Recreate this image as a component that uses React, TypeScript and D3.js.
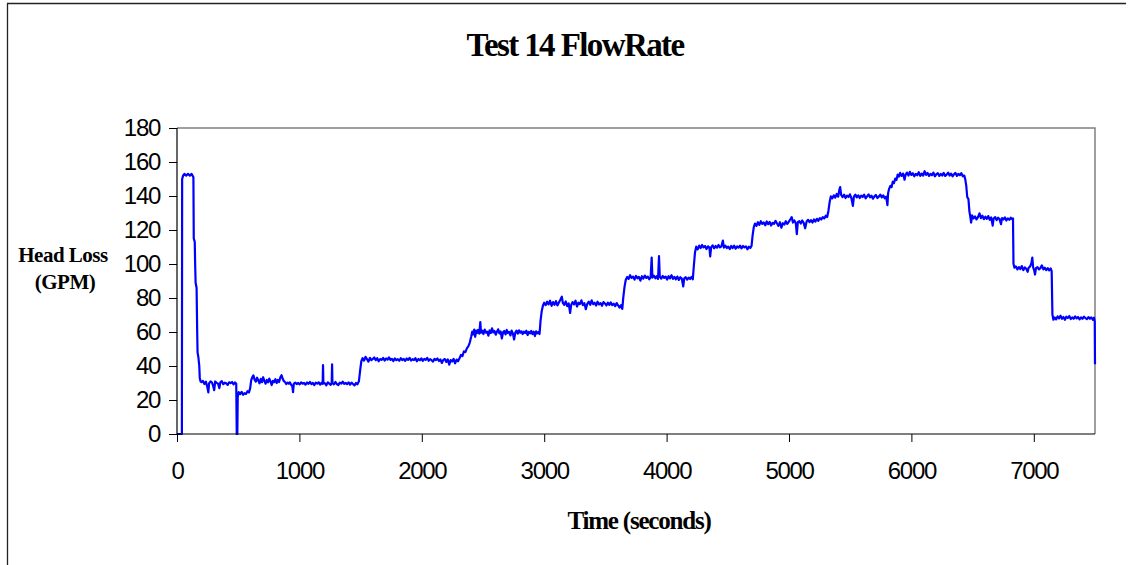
import { useEffect, useRef } from 'react';
import * as d3 from 'd3';

type Sample = [number, number];

// Readings taken off the flow-rate trace, grouped by plateau: [time (s), value]
const startupFlow: Sample[] = [
  [0, 0], [20, 0], [40, 0], [42, 150], [50, 152], [60, 153], [75, 152], [90, 153], [105, 152],
  [120, 153], [134, 151], [137, 115], [145, 113], [148, 101], [152, 89], [160, 86], [165, 60],
  [168, 48], [175, 45], [182, 40], [186, 33], [192, 31],
];

const stage30: Sample[] = [
  [200, 30.5], [212, 31.2], [224, 29.4], [236, 30.8], [248, 27.5], [256, 24.5], [262, 29.8], [274, 31.0],
  [286, 30.2], [296, 28.1], [304, 25.8], [312, 30.9], [324, 30.1], [336, 29.6], [346, 27.0], [354, 30.4],
  [366, 31.1], [378, 29.3], [390, 30.2], [402, 29.8], [414, 28.9], [426, 30.4], [438, 29.9], [450, 30.6],
  [462, 29.2], [474, 30.3], [484, 29.6], [488, 0], [493, 0], [496, 21.8], [504, 24.6], [516, 23.5],
  [528, 24.8], [540, 23.1], [552, 24.0], [564, 23.6], [576, 25.2], [588, 24.4], [598, 27.0], [606, 31.5],
  [614, 33.2], [624, 34.5], [634, 32.0], [644, 30.8], [654, 33.1], [664, 31.6], [674, 29.8], [684, 32.4],
  [694, 30.5], [704, 33.4], [714, 31.2], [724, 29.6], [734, 31.8], [744, 30.4], [754, 32.6], [764, 30.9],
  [774, 28.8], [784, 31.3], [794, 30.5], [804, 32.2], [814, 30.0], [824, 31.8], [834, 30.6], [844, 33.2],
  [854, 34.6], [862, 32.8], [872, 31.2], [882, 30.6], [892, 29.4], [902, 30.2], [912, 29.6], [922, 30.4],
  [932, 29.0], [942, 28.2], [948, 24.6], [954, 29.5], [966, 30.2], [978, 29.4], [990, 30.0], [1002, 29.2],
  [1014, 30.4], [1026, 29.6], [1038, 30.1], [1050, 29.0], [1062, 30.3], [1074, 29.5], [1086, 30.6],
  [1098, 29.4], [1110, 30.0], [1122, 28.8], [1134, 30.2], [1146, 29.6], [1158, 30.4], [1170, 29.1],
  [1180, 30.0], [1190, 29.5], [1193, 40.5], [1196, 30.2], [1208, 29.8], [1220, 28.6], [1232, 30.4],
  [1244, 29.6], [1256, 28.9], [1264, 30.2], [1267, 41.0], [1270, 30.0], [1282, 29.2], [1294, 30.6],
  [1306, 29.4], [1318, 28.8], [1330, 30.2], [1342, 29.6], [1354, 30.8], [1366, 29.5], [1378, 30.1],
  [1390, 29.3], [1402, 30.4], [1414, 29.0], [1426, 30.2], [1438, 29.4], [1450, 28.6], [1462, 30.0],
  [1474, 29.2], [1486, 31.0],
];

const stage44: Sample[] = [
  [1498, 38.5], [1506, 42.8], [1516, 44.6], [1528, 43.2], [1540, 45.4], [1552, 44.0], [1564, 42.6],
  [1576, 44.8], [1588, 43.5], [1600, 44.2], [1612, 45.0], [1624, 43.4], [1636, 44.6], [1648, 42.8],
  [1660, 44.1], [1672, 43.6], [1684, 44.8], [1696, 43.2], [1708, 44.4], [1720, 43.8], [1732, 45.1],
  [1744, 43.6], [1756, 44.2], [1768, 42.9], [1780, 44.5], [1792, 43.4], [1804, 44.0], [1816, 43.1],
  [1828, 44.6], [1840, 43.5], [1852, 44.2], [1864, 43.0], [1876, 44.4], [1888, 43.6], [1900, 44.8],
  [1912, 43.2], [1924, 44.0], [1936, 43.5], [1948, 44.6], [1960, 42.8], [1972, 44.1], [1984, 43.4],
  [1996, 44.5], [2008, 43.0], [2020, 44.2], [2032, 43.6], [2044, 44.8], [2056, 43.1], [2068, 44.0],
  [2080, 43.4], [2092, 42.6], [2104, 44.2], [2116, 43.5], [2128, 44.4], [2140, 42.9], [2152, 43.8],
  [2164, 41.8], [2176, 43.6], [2188, 44.1], [2200, 42.4], [2212, 43.9], [2224, 40.8], [2236, 43.5],
  [2248, 42.6], [2260, 44.2], [2272, 41.6], [2284, 43.8], [2296, 42.8], [2308, 44.6], [2320, 46.5],
  [2332, 45.8], [2344, 48.6],
];

const stage60: Sample[] = [
  [2356, 48.2], [2368, 50.4], [2380, 51.6], [2392, 53.8], [2404, 57.4], [2412, 60.2], [2420, 58.6],
  [2428, 61.4], [2436, 57.2], [2444, 60.8], [2452, 59.4], [2460, 61.2], [2470, 59.0], [2478, 65.8],
  [2484, 59.6], [2494, 60.8], [2504, 58.8], [2514, 61.4], [2524, 59.6], [2534, 60.2], [2544, 57.8],
  [2554, 61.0], [2564, 59.4], [2574, 62.2], [2584, 59.8], [2594, 60.6], [2604, 58.4], [2614, 60.2],
  [2624, 61.6], [2634, 59.2], [2644, 60.4], [2654, 56.2], [2664, 59.8], [2674, 60.6], [2684, 58.6],
  [2694, 61.2], [2704, 59.4], [2714, 60.0], [2724, 58.0], [2734, 60.8], [2744, 59.2], [2754, 55.6],
  [2764, 59.6], [2774, 60.8], [2784, 59.0], [2794, 61.0], [2804, 59.6], [2814, 60.4], [2824, 58.8],
  [2834, 60.2], [2844, 59.4], [2854, 60.8], [2864, 58.2], [2874, 60.0], [2884, 59.2], [2894, 60.6],
  [2904, 58.8], [2914, 60.2], [2924, 57.6], [2934, 60.4], [2944, 59.2], [2954, 60.0], [2962, 58.8],
];

const stage77: Sample[] = [
  [2970, 66.5], [2980, 72.4], [2990, 75.6], [3000, 77.2], [3012, 75.8], [3024, 77.8], [3036, 76.2],
  [3048, 78.4], [3060, 75.4], [3072, 77.6], [3084, 76.0], [3096, 78.2], [3108, 75.6], [3120, 77.4],
  [3132, 79.0], [3144, 80.8], [3152, 77.2], [3164, 76.0], [3176, 78.0], [3188, 75.2], [3200, 76.8],
  [3212, 71.2], [3220, 75.8], [3232, 77.6], [3244, 76.2], [3256, 78.4], [3268, 75.0], [3280, 77.2],
  [3292, 76.4], [3304, 78.6], [3316, 75.8], [3328, 77.0], [3340, 73.4], [3352, 76.6], [3364, 77.8],
  [3376, 76.0], [3388, 78.6], [3400, 76.4], [3412, 77.2], [3424, 75.6], [3436, 77.8], [3448, 76.2],
  [3460, 77.0], [3472, 75.4], [3484, 77.6], [3496, 76.8], [3508, 75.6], [3520, 77.2], [3532, 76.0],
  [3544, 77.4], [3556, 75.8], [3568, 76.6], [3580, 75.2], [3592, 77.0], [3604, 75.6], [3616, 74.4],
  [3628, 75.8], [3638, 73.6],
];

const stage92: Sample[] = [
  [3646, 80.2], [3656, 86.4], [3666, 90.6], [3678, 92.4], [3690, 91.2], [3702, 93.4], [3714, 91.8],
  [3726, 92.6], [3738, 90.8], [3750, 93.0], [3762, 91.6], [3774, 92.4], [3786, 90.2], [3798, 92.8],
  [3810, 91.4], [3822, 93.2], [3834, 91.8], [3846, 92.6], [3858, 91.0], [3870, 92.4], [3878, 103.8],
  [3884, 92.0], [3896, 93.2], [3908, 91.6], [3920, 92.8], [3930, 91.2], [3938, 104.6], [3944, 92.6],
  [3956, 91.4], [3968, 93.0], [3980, 91.8], [3992, 92.6], [4004, 90.8], [4016, 92.8], [4028, 91.6],
  [4040, 93.4], [4052, 91.2], [4064, 92.4], [4076, 91.0], [4088, 92.6], [4100, 90.6], [4112, 92.2],
  [4124, 91.4], [4136, 86.8], [4144, 91.6], [4156, 92.2], [4168, 90.8], [4180, 92.0], [4192, 91.2],
  [4204, 92.4], [4214, 91.0],
];

const stage110: Sample[] = [
  [4222, 98.4], [4232, 106.8], [4242, 110.2], [4254, 108.6], [4266, 110.8], [4278, 109.4], [4290, 111.2],
  [4302, 109.8], [4314, 110.6], [4326, 108.8], [4338, 110.4], [4350, 109.6], [4356, 104.4], [4364, 109.8],
  [4376, 111.0], [4388, 109.2], [4400, 110.6], [4412, 109.6], [4424, 111.2], [4436, 109.8], [4448, 110.4],
  [4460, 113.8], [4468, 109.6], [4480, 110.8], [4492, 109.4], [4504, 110.2], [4516, 108.8], [4528, 110.6],
  [4540, 109.4], [4552, 110.8], [4564, 109.0], [4576, 110.4], [4588, 109.6], [4600, 110.8], [4612, 109.2],
  [4624, 110.6], [4636, 109.8], [4648, 110.4], [4660, 108.6], [4672, 110.2], [4684, 109.4], [4694, 110.6],
];

const stage125: Sample[] = [
  [4702, 116.4], [4712, 121.6], [4722, 123.8], [4734, 122.4], [4746, 124.6], [4758, 123.0], [4770, 125.2],
  [4782, 123.6], [4794, 124.4], [4806, 122.8], [4818, 125.0], [4830, 123.4], [4842, 124.8], [4854, 122.6],
  [4866, 124.2], [4878, 123.6], [4890, 125.4], [4902, 123.8], [4914, 122.4], [4926, 124.6], [4938, 121.4],
  [4950, 124.0], [4962, 123.2], [4974, 125.2], [4986, 123.6], [4998, 124.8], [5010, 126.2], [5022, 127.6],
  [5032, 124.4], [5044, 125.6], [5056, 123.8], [5064, 117.6], [5072, 124.6], [5084, 125.2], [5096, 123.8],
  [5108, 125.6], [5120, 124.2], [5132, 121.0], [5144, 125.0], [5156, 126.0], [5168, 124.6], [5180, 125.8],
  [5192, 124.4], [5204, 126.2], [5216, 125.0], [5228, 126.6], [5240, 125.4], [5252, 127.0], [5264, 126.2],
  [5276, 127.6], [5288, 126.8], [5300, 128.4], [5312, 127.6],
];

const stage140: Sample[] = [
  [5322, 131.2], [5332, 136.4], [5342, 139.8], [5354, 138.6], [5366, 140.4], [5378, 139.0], [5390, 141.2],
  [5402, 139.6], [5412, 143.8], [5418, 145.2], [5426, 140.6], [5438, 139.4], [5450, 140.8], [5462, 138.8],
  [5474, 140.2], [5486, 139.4], [5498, 141.0], [5510, 138.6], [5522, 134.2], [5530, 139.6], [5542, 140.8],
  [5554, 139.2], [5566, 140.4], [5578, 138.8], [5590, 140.2], [5602, 139.4], [5614, 140.8], [5626, 138.6],
  [5638, 139.8], [5650, 141.0], [5662, 139.2], [5674, 140.2], [5686, 138.4], [5698, 139.8], [5710, 140.6],
  [5722, 138.8], [5734, 139.6], [5746, 140.8], [5758, 139.2], [5770, 140.4], [5782, 138.6], [5794, 139.6],
  [5804, 134.6], [5810, 141.8],
];

const stage152: Sample[] = [
  [5818, 144.2], [5828, 146.0], [5838, 145.2], [5848, 148.4], [5858, 147.6], [5868, 150.2], [5878, 149.4],
  [5888, 152.6], [5898, 151.4], [5908, 153.6], [5920, 151.8], [5932, 153.2], [5944, 149.6], [5952, 152.4],
  [5964, 153.8], [5976, 152.0], [5988, 154.2], [6000, 152.4], [6012, 153.4], [6024, 151.6], [6036, 153.0],
  [6048, 152.2], [6060, 154.0], [6072, 151.8], [6084, 153.2], [6096, 152.0], [6108, 154.6], [6120, 152.4],
  [6132, 153.6], [6144, 151.8], [6156, 153.0], [6168, 152.2], [6180, 153.8], [6192, 151.6], [6204, 152.8],
  [6216, 153.4], [6228, 151.8], [6240, 153.0], [6252, 152.0], [6264, 153.6], [6276, 151.8], [6288, 152.6],
  [6300, 153.8], [6312, 152.0], [6324, 153.2], [6336, 151.6], [6348, 152.8], [6360, 153.6], [6372, 151.8],
  [6384, 153.0], [6396, 152.2], [6408, 153.4], [6420, 151.6], [6432, 152.0], [6440, 149.8],
];

const stage127: Sample[] = [
  [6448, 146.2], [6456, 139.4], [6466, 138.2], [6474, 131.0], [6482, 127.4], [6488, 124.4], [6496, 128.6],
  [6508, 126.8], [6520, 128.0], [6532, 126.2], [6544, 127.6], [6556, 129.8], [6568, 127.0], [6580, 128.4],
  [6592, 126.4], [6604, 127.8], [6616, 126.6], [6628, 128.2], [6640, 126.0], [6652, 127.4], [6664, 122.6],
  [6672, 126.8], [6684, 127.6], [6696, 125.8], [6708, 127.2], [6720, 126.4], [6732, 123.4], [6740, 127.0],
  [6752, 126.2], [6764, 127.4], [6776, 125.6], [6788, 126.8], [6800, 126.0], [6812, 127.2], [6822, 126.4],
  [6830, 126.8],
];

const stage98: Sample[] = [
  [6834, 100.2], [6842, 97.8], [6854, 98.6], [6866, 96.8], [6878, 98.2], [6890, 97.0], [6902, 98.8],
  [6914, 96.4], [6926, 98.0], [6938, 97.2], [6950, 95.4], [6958, 97.8], [6970, 98.6], [6980, 100.4],
  [6988, 103.8], [6994, 98.2], [7002, 96.6], [7010, 93.8], [7018, 97.6], [7030, 98.2], [7042, 96.8],
  [7054, 97.6], [7066, 99.2], [7078, 96.8], [7090, 97.8], [7102, 96.4], [7114, 97.6], [7126, 96.2],
  [7138, 97.4], [7146, 95.8],
];

const stage68: Sample[] = [
  [7152, 70.4], [7160, 67.2], [7170, 68.6], [7182, 67.4], [7194, 69.2], [7206, 68.0], [7218, 69.6],
  [7230, 67.8], [7242, 68.8], [7254, 67.2], [7266, 69.0], [7278, 68.2], [7290, 69.4], [7302, 67.6],
  [7314, 68.6], [7326, 67.8], [7338, 69.2], [7350, 68.0], [7362, 68.8], [7374, 67.4], [7386, 68.6],
  [7398, 67.8], [7410, 69.0], [7422, 68.2], [7434, 67.6], [7446, 68.8], [7458, 67.8], [7470, 68.6],
  [7482, 67.2], [7492, 68.4], [7498, 66.0], [7500, 41.0],
];

const xTicks = [0, 1000, 2000, 3000, 4000, 5000, 6000, 7000];
const yTicks = [0, 20, 40, 60, 80, 100, 120, 140, 160, 180];

export default function App() {
  const svgRef = useRef<SVGSVGElement | null>(null);

  useEffect(() => {
    if (!svgRef.current) return;
    const svg = d3.select(svgRef.current);
    svg.selectAll("*").remove();

    const width = 1135;
    const height = 565;
    const plot = { left: 177, right: 1095, top: 128, bottom: 434 };
    const sansFont = "'Liberation Sans', Arial, sans-serif";
    const serifFont = "'Liberation Serif', 'Times New Roman', serif";

    svg.attr("width", width).attr("height", height);

    // outer chart border (only top and left edges are in frame)
    svg.append("path")
      .attr("d", `M7.5,${height} V3.5 H1126`)
      .style("fill", "none")
      .style("stroke", "#222")
      .style("stroke-width", 1.3);

    const series = [
      ...startupFlow, ...stage30, ...stage44, ...stage60, ...stage77, ...stage92,
      ...stage110, ...stage125, ...stage140, ...stage152, ...stage127, ...stage98, ...stage68,
    ];

    const x = d3.scaleLinear().domain([0, 7500]).range([plot.left, plot.right]);
    const y = d3.scaleLinear().domain([0, 180]).range([plot.bottom, plot.top]);

    // plot frame: gray top and right edges
    svg.append("path")
      .attr("d", `M${plot.left},${plot.top} H${plot.right} V${plot.bottom}`)
      .style("fill", "none")
      .style("stroke", "#808080")
      .style("stroke-width", 1.5);

    // the trace
    const line = d3.line<Sample>()
      .x(d => x(d[0]))
      .y(d => y(d[1]));

    svg.append("path")
      .attr("d", line(series))
      .style("fill", "none")
      .style("stroke", "#0000ff")
      .style("stroke-width", 2.2)
      .style("stroke-linejoin", "round");

    // y axis
    const yAxis = d3.axisLeft(y).tickValues(yTicks).tickSize(8).tickPadding(9);
    const gy = svg.append("g")
      .attr("transform", `translate(${plot.left},0)`)
      .call(yAxis);
    gy.select(".domain").attr("d", `M0,${plot.top}V${plot.bottom}`).style("stroke", "#000").style("stroke-width", 1.2);
    gy.selectAll(".tick line").style("stroke", "#000");
    gy.selectAll(".tick text")
      .style("font-family", sansFont)
      .style("font-size", "24px")
      .style("letter-spacing", "-1.3px")
      .style("fill", "#000");

    // x axis
    const xAxis = d3.axisBottom(x).tickValues(xTicks).tickFormat(d3.format("d")).tickSize(8).tickPadding(20);
    const gx = svg.append("g")
      .attr("transform", `translate(0,${plot.bottom})`)
      .call(xAxis);
    gx.select(".domain").attr("d", `M${plot.left},0H${plot.right}`).style("stroke", "#000").style("stroke-width", 1.2);
    gx.selectAll(".tick line").style("stroke", "#000");
    gx.selectAll(".tick text")
      .style("font-family", sansFont)
      .style("font-size", "24px")
      .style("letter-spacing", "-1.3px")
      .style("fill", "#000");

    // title
    svg.append("text")
      .attr("x", 575)
      .attr("y", 56)
      .attr("text-anchor", "middle")
      .style("font-family", serifFont)
      .style("font-weight", "bold")
      .style("font-size", "33px")
      .style("letter-spacing", "-1.6px")
      .text("Test 14 FlowRate");

    // y label, two lines
    const yLabel = svg.append("text")
      .attr("text-anchor", "middle")
      .style("font-family", serifFont)
      .style("font-weight", "bold")
      .style("font-size", "21px")
      .style("letter-spacing", "-0.5px");
    yLabel.append("tspan").attr("x", 63).attr("y", 262).text("Head Loss");
    yLabel.append("tspan").attr("x", 65).attr("y", 289).text("(GPM)");

    // x label
    svg.append("text")
      .attr("x", 639)
      .attr("y", 529)
      .attr("text-anchor", "middle")
      .style("font-family", serifFont)
      .style("font-weight", "bold")
      .style("font-size", "25px")
      .style("letter-spacing", "-1.2px")
      .text("Time (seconds)");
  }, []);

  return (
    <div style={{ position: "absolute", left: 0, top: 0 }}>
      <svg ref={svgRef}></svg>
    </div>
  );
}
